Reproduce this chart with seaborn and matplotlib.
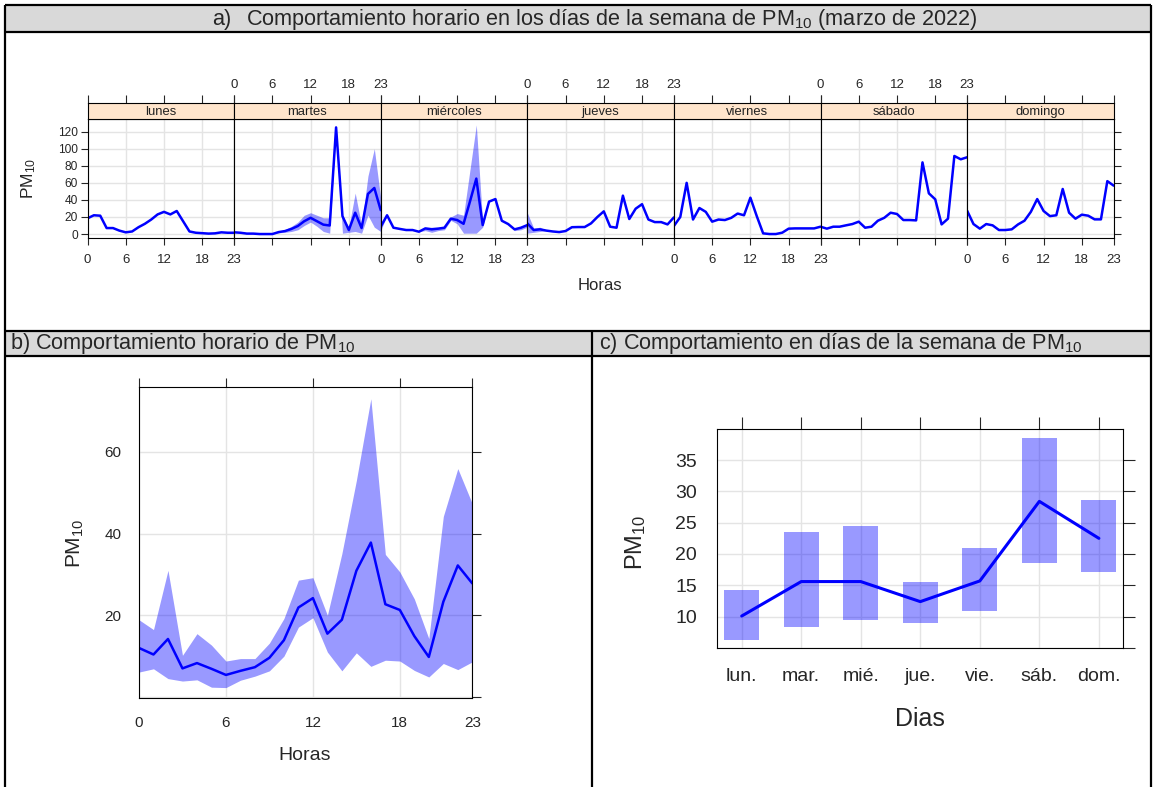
import matplotlib
matplotlib.use("Agg")
import matplotlib.pyplot as plt
import seaborn as sns
import pandas as pd
from matplotlib.patches import Rectangle
from matplotlib.lines import Line2D

# ---------------- data ----------------
dias = ["lunes", "martes", "miércoles", "jueves", "viernes", "sábado", "domingo"]
horas = list(range(24))

pm_lunes = [18.4, 22, 21.5, 7, 7, 4, 2, 3, 8, 12, 17, 23, 26, 23, 27, 15, 3, 1.5, 1, 0.5, 0.8, 2, 1.5, 1.5]
pm_martes = [2, 1.5, 0.5, 0.5, 0, 0, 0, 2.3, 3.5, 6, 9.4, 15, 19, 15, 11, 10, 125, 21, 4.7, 25, 7, 47, 54, 28]
pm_miercoles = [8.6, 22, 7.4, 6, 4.7, 4.7, 2.7, 6.6, 5.5, 6.3, 7.4, 18, 16.4, 12, 38, 65, 10.5, 38, 41, 15.6, 11.7, 5.5, 7.4, 10.5]
pm_jueves = [12.5, 4.7, 5.5, 4, 3, 2.3, 3.5, 8, 8.2, 8.2, 12.5, 20, 26.6, 8.6, 7.4, 45, 17.6, 29.7, 35, 17, 14, 14, 11.3, 19.5]
pm_viernes = [9.4, 20, 60, 17, 30.5, 26, 14.5, 17, 16.4, 19, 24, 22, 42.6, 21, 0.8, 0, 0, 1.6, 6.3, 6.6, 6.6, 6.6, 6.6, 8.6]
pm_sabado = [8.6, 6.3, 8.6, 8.6, 10.2, 11.7, 14.5, 7.4, 8.6, 15.6, 19, 25, 23.5, 16.4, 16.4, 16, 84, 47.7, 40.7, 11.3, 18, 91.5, 87.6, 90]
pm_domingo = [27.4, 11.7, 6.3, 11.7, 10.2, 4.7, 4.7, 5.5, 11.3, 15.6, 26, 41, 27, 21, 22, 52.8, 25, 18, 22.7, 21.5, 17.2, 17.2, 62, 56.7]

inf_martes = [2, 1.5, 0.5, 0.5, 0, 0, 0, 1.5, 2, 3, 5, 10, 14, 9, 3, 1, 124, 1, 2, 3, 1, 22, 8, 3]
sup_martes = [2, 1.5, 0.5, 0.5, 0, 0, 0, 3, 5.5, 9, 14, 22, 25, 22, 19, 19, 126, 22, 8, 48, 10, 68, 100, 42]
inf_miercoles = [4, 22, 7.4, 6, 4.7, 4.7, 2.7, 4, 2, 4, 5, 16, 12, 1, 1, 1, 8, 38, 41, 15.6, 11.7, 4, 5, 8]
sup_miercoles = [12, 22, 7.4, 6, 4.7, 4.7, 2.7, 8, 8, 8, 9, 20, 24, 22, 75, 128, 13, 38, 41, 15.6, 11.7, 6, 8, 12]
inf_jueves = [1, 2, 3, 4, 3, 2.3, 3.5, 8, 8.2, 8.2, 12.5, 20, 26.6, 8.6, 7.4, 45, 17.6, 29.7, 35, 17, 14, 14, 11.3, 19.5]
sup_jueves = [25, 7, 8, 4, 3, 2.3, 3.5, 8, 8.2, 8.2, 12.5, 20, 26.6, 8.6, 7.4, 45, 17.6, 29.7, 35, 17, 14, 14, 11.3, 19.5]

hora_media = [12, 10.4, 14.2, 7, 8.3, 6.9, 5.4, 6.4, 7.3, 9.6, 13.9, 21.9, 24.2, 15.5, 18.9, 30.9, 37.8, 22.7, 21.3, 14.9, 9.8, 23.3, 32.2, 27.8]
hora_sup = [18.9, 16.5, 31, 10.2, 15.5, 12.7, 8.8, 9.4, 9.4, 13.2, 19.2, 28.6, 29.2, 20, 35.1, 53, 73, 34.9, 30.6, 24, 14.3, 44.2, 55.9, 47.3]
hora_inf = [6.1, 6.9, 4.5, 3.9, 4.2, 2.4, 2.3, 4.1, 5.1, 6.4, 10, 17.1, 19.4, 11, 6.4, 10.8, 7.5, 9, 8.8, 6.5, 4.9, 8.2, 6.7, 8.6]

dias_cortos = ["lun.", "mar.", "mié.", "jue.", "vie.", "sáb.", "dom."]
dia_media = [10.1, 15.6, 15.6, 12.4, 15.7, 28.4, 22.5]
dia_sup = [14.3, 23.5, 24.4, 15.6, 21.0, 38.5, 28.6]
dia_inf = [6.2, 8.4, 9.5, 9.0, 10.9, 18.6, 17.1]

series_dias = [pm_lunes, pm_martes, pm_miercoles, pm_jueves, pm_viernes, pm_sabado, pm_domingo]
bandas_dias = [None, (inf_martes, sup_martes), (inf_miercoles, sup_miercoles), (inf_jueves, sup_jueves), None, None, None]

# ---------------- style ----------------
sns.set_style("white")
plt.rcParams["font.family"] = ["Liberation Sans", "DejaVu Sans"]
plt.rcParams["mathtext.fontset"] = "custom"
plt.rcParams["mathtext.rm"] = "Liberation Sans"
plt.rcParams["mathtext.it"] = "Liberation Sans"
plt.rcParams["mathtext.default"] = "regular"
plt.rcParams["axes.edgecolor"] = "black"
plt.rcParams["axes.linewidth"] = 0.8

BLUE = "#0000ff"
FILL = (0, 0, 1, 0.4)
GRID = "#e4e4e4"

W, H = 1153, 787
fig = plt.figure(figsize=(W / 100, H / 100), dpi=100)


def rect(x0, y0, x1, y1):
    return [x0 / W, 1 - y1 / H, (x1 - x0) / W, (y1 - y0) / H]


# background table
bg = fig.add_axes([0, 0, 1, 1], zorder=-10)
bg.set_xlim(0, W)
bg.set_ylim(H, 0)
bg.axis("off")
bg.add_patch(Rectangle((5, 5), W - 7, 27, fc="#d9d9d9", ec="none"))
bg.add_patch(Rectangle((5, 331), W - 7, 25, fc="#d9d9d9", ec="none"))
lw_t = 1.6
for (x0, y0, x1, y1) in [(5, 5, W - 2, 5), (5, 32, W - 2, 32), (5, 331, W - 2, 331),
                         (5, 356, W - 2, 356), (5, 5, 5, H), (W - 2, 5, W - 2, H),
                         (592, 331, 592, H)]:
    bg.add_line(Line2D([x0, x1], [y0, y1], color="black", lw=lw_t, solid_capstyle="butt"))

HFS = 15.6
bg.text(222, 19, "a)", ha="center", va="center", fontsize=HFS)
bg.text(246, 19, "Comportamiento horario en los días de la semana de PM$_{10}$ (marzo de 2022)",
        ha="left", va="center", fontsize=HFS)
bg.text(10, 344, "b) Comportamiento horario de PM$_{10}$", ha="left", va="center", fontsize=HFS)
bg.text(599, 344, "c) Comportamiento en días de la semana de PM$_{10}$", ha="left", va="center", fontsize=HFS)

# ---------------- panel a ----------------
x_start, pw = 87.5, 146.6
xt = [0, 6, 12, 18, 23]
for i, (dia, serie, banda) in enumerate(zip(dias, series_dias, bandas_dias)):
    x0 = x_start + i * pw
    ax = fig.add_axes(rect(x0, 119.3, x0 + pw, 238.3))
    st = fig.add_axes(rect(x0, 103.3, x0 + pw, 119.3))
    df = pd.DataFrame({"hora": horas, "pm": serie})
    ax.set_xticks(xt)
    ax.set_yticks([0, 20, 40, 60, 80, 100, 120])
    ax.grid(True, color=GRID, lw=1)
    ax.set_axisbelow(True)
    if banda is not None:
        ax.fill_between(horas, banda[0], banda[1], color=FILL, lw=0)
    sns.lineplot(data=df, x="hora", y="pm", ax=ax, color=BLUE, lw=1.8, estimator=None)
    ax.set_xlim(0, 23)
    ax.set_ylim(-5, 134.5)
    ax.set_xlabel("")
    ax.set_ylabel("")
    ax.tick_params(axis="x", direction="out", length=5, width=0.8, labelsize=9.5, pad=6,
                   bottom=True, labelbottom=(i % 2 == 0))
    if i == 0:
        ax.tick_params(axis="y", direction="out", length=5, width=0.8, labelsize=8.6, pad=2,
                       left=True, labelleft=True, right=False)
    elif i == 6:
        ax.tick_params(axis="y", direction="out", length=5, width=0.8, left=False, labelleft=False,
                       right=True, labelright=False)
    else:
        ax.tick_params(axis="y", left=False, labelleft=False)
    # strip
    st.set_facecolor("#ffe5cc")
    st.set_xlim(0, 23)
    st.set_ylim(0, 1)
    st.set_yticks([])
    st.set_xticks(xt)
    st.xaxis.set_ticks_position("top")
    st.tick_params(axis="x", direction="out", length=6, width=0.8, labelsize=9.5, pad=3,
                   top=True, bottom=False, labeltop=(i % 2 == 1), labelbottom=False)
    st.text(11.5, 0.45, dia, ha="center", va="center", fontsize=9.4, color="#222222")

fig.text(29 / W, 1 - 178 / H, "PM$_{10}$", rotation=90, ha="center", va="center", fontsize=12.5)
fig.text(600 / W, 1 - 285 / H, "Horas", ha="center", va="center", fontsize=12)

# ---------------- panel b ----------------
axb = fig.add_axes(rect(139, 387.3, 472.3, 698.3))
dfb = pd.DataFrame({"hora": horas, "pm": hora_media})
axb.set_xticks(xt)
axb.set_yticks([0, 20, 40, 60])
axb.grid(True, color=GRID, lw=1)
axb.set_axisbelow(True)
axb.fill_between(horas, hora_inf, hora_sup, color=FILL, lw=0)
sns.lineplot(data=dfb, x="hora", y="pm", ax=axb, color=BLUE, lw=1.8, estimator=None)
axb.set_xlim(0, 23)
axb.set_ylim(-0.32, 75.8)
axb.set_yticklabels(["", "20", "40", "60"])
axb.set_xlabel("")
axb.set_ylabel("")
axb.tick_params(axis="both", direction="out", length=6.5, width=0.8, labelsize=11, pad=6,
                top=True, right=True, labeltop=False, labelright=False)
fig.text(305 / W, 1 - 756 / H, "Horas", ha="center", va="center", fontsize=14)
fig.text(75 / W, 1 - 543 / H, "PM$_{10}$", rotation=90, ha="center", va="center", fontsize=15)

# ---------------- panel c ----------------
axc = fig.add_axes(rect(717.3, 429.3, 1123.3, 648.3))
pos = list(range(len(dias_cortos)))
dfc = pd.DataFrame({"dia": pos, "pm": dia_media})
axc.set_xticks(pos)
axc.set_yticks([5, 10, 15, 20, 25, 30, 35])
axc.grid(True, color=GRID, lw=1)
axc.set_axisbelow(True)
axc.bar(pos, [s - l for s, l in zip(dia_sup, dia_inf)], bottom=dia_inf, width=0.59, color=FILL, lw=0)
sns.lineplot(data=dfc, x="dia", y="pm", ax=axc, color=BLUE, lw=2.2, estimator=None)
axc.set_xlim(-0.41, 6.41)
axc.set_ylim(4.95, 39.9)
axc.set_xticklabels(dias_cortos)
axc.set_yticklabels(["", "10", "15", "20", "25", "30", "35"])
axc.set_xlabel("")
axc.set_ylabel("")
axc.tick_params(axis="both", direction="out", length=8.5, width=0.8, labelsize=14, pad=6,
                top=True, right=True, labeltop=False, labelright=False)
fig.text(920 / W, 1 - 719 / H, "Dias", ha="center", va="center", fontsize=18)
fig.text(636 / W, 1 - 542 / H, "PM$_{10}$", rotation=90, ha="center", va="center", fontsize=17)

fig.savefig("out.png", dpi=100)
